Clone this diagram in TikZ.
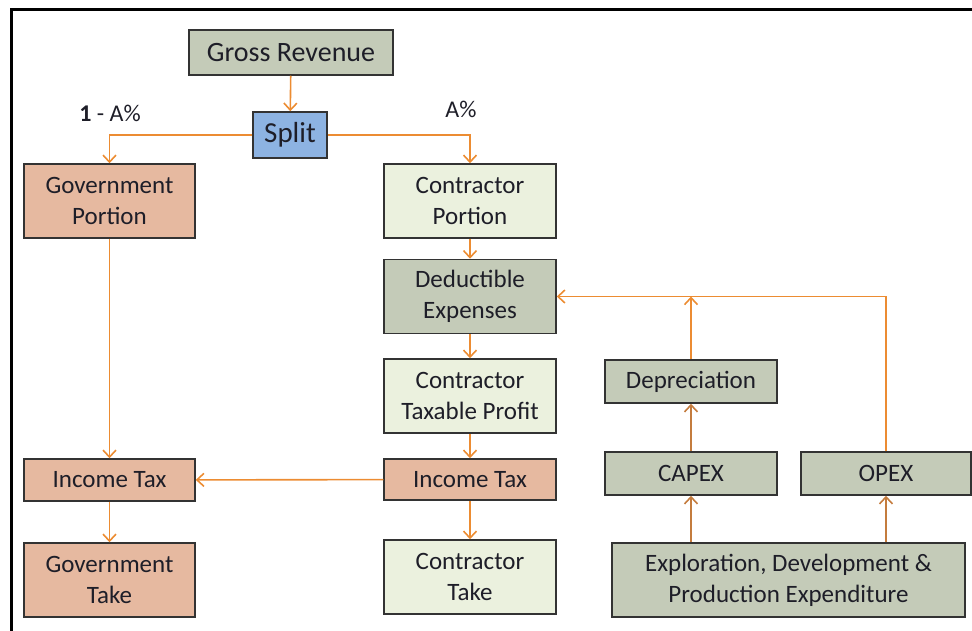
\documentclass[tikz,border=0pt]{standalone}
\usepackage{fontspec}
\setmainfont{Carlito}
\usepackage{tikz}
\usetikzlibrary{arrows.meta}

\definecolor{boxgray}{RGB}{196,203,184}
\definecolor{boxblue}{RGB}{141,179,226}
\definecolor{boxrose}{RGB}{230,185,160}
\definecolor{boxpale}{RGB}{235,241,222}
\definecolor{flow}{RGB}{236,140,50}
\definecolor{flowdark}{RGB}{196,124,62}
\definecolor{ink}{RGB}{30,30,40}

\tikzset{
  box/.style={draw=black!80, line width=1.5pt, inner sep=0pt, align=center,
    text=ink, font=\fontsize{25}{31}\selectfont},
  flowline/.style={draw=flow, line width=1.6pt, -{Straight Barb[length=7pt,width=13pt]}},
  flowup/.style={flowline, draw=flowdark}
}

\begin{document}
\begin{tikzpicture}[x=1pt, y=-1pt]
      \useasboundingbox (0,0) rectangle (972,631);
      % frame, open on the right and at the bottom
      \draw[line width=3pt] (11,640) -- (11,10) -- (980,10);

      \def \wide {172pt}
      \def \tall {74pt}
      \def \low {43pt}

      % middle column
      \node[box, fill=boxgray, minimum width=204pt, minimum height=45pt,
        font=\fontsize{28}{31}\selectfont] (gross) at (291,52.5) {Gross Revenue};
      \node[box, fill=boxblue, minimum width=74pt, minimum height=46pt,
        font=\fontsize{29}{31}\selectfont] (split) at (290,135) {Split};
      \node[box, fill=boxpale, minimum width=\wide, minimum height=\tall] (conpor) at (470,201) {Contractor\\Portion};
      \node[box, fill=boxgray, minimum width=\wide, minimum height=\tall] (deduct) at (470,296.5) {Deductible\\Expenses};
      \node[box, fill=boxpale, minimum width=\wide, minimum height=\tall] (profit) at (470,396) {Contractor\\Taxable Profit};
      \node[box, fill=boxrose, minimum width=\wide, minimum height=41pt] (contax) at (470,479.5) {Income Tax};
      \node[box, fill=boxpale, minimum width=\wide, minimum height=\tall] (contake) at (470,577) {Contractor\\Take};

      % left column
      \node[box, fill=boxrose, minimum width=171pt, minimum height=\tall] (govpor) at (109.5,201) {Government\\Portion};
      \node[box, fill=boxrose, minimum width=171pt, minimum height=42pt] (govtax) at (109.5,480) {Income Tax};
      \node[box, fill=boxrose, minimum width=171pt, minimum height=\tall] (govtake) at (109.5,580) {Government\\Take};

      % right part
      \node[box, fill=boxgray, minimum width=\wide, minimum height=\low] (deprec) at (691,381.5) {Depreciation};
      \node[box, fill=boxgray, minimum width=\wide, minimum height=\low] (capex) at (691,473.5) {CAPEX};
      \node[box, fill=boxgray, minimum width=170pt, minimum height=\low] (opex) at (886,473.5) {OPEX};
      \node[box, fill=boxgray, minimum width=353pt, minimum height=\tall] (explo) at (788.5,580) {Exploration, Development \&\\Production Expenditure};

      % split labels
      \node[text=ink, font=\fontsize{24}{26}\selectfont] (lgov) at (110,113) {\textbf{1} - A\%};
      \node[text=ink, font=\fontsize{24}{26}\selectfont] (lcon) at (461,109) {A\%};

      \coordinate (join) at (691,296.5);

      \draw[flowline] (gross) -- (split);
      \draw[flowline] (split.west) -| (govpor.north);
      \draw[flowline] (split.east) -| (conpor.north);
      \draw[flowline] (conpor) -- (deduct);
      \draw[flowline] (deduct) -- (profit);
      \draw[flowline] (profit) -- (contax);
      \draw[flowline] (contax) -- (contake);
      \draw[flowline] (contax) -- (govtax);
      \draw[flowline] (govpor) -- (govtax);
      \draw[flowline] (govtax) -- (govtake);
      \draw[flowline] (opex.north) |- (deduct.east);
      \draw[flowline] (deprec) -- (join);
      \draw[flowup] (capex) -- (deprec);
      \draw[flowup] (explo.north -| capex) -- (capex);
      \draw[flowup] (explo.north -| opex) -- (opex);
\end{tikzpicture}
\end{document}
